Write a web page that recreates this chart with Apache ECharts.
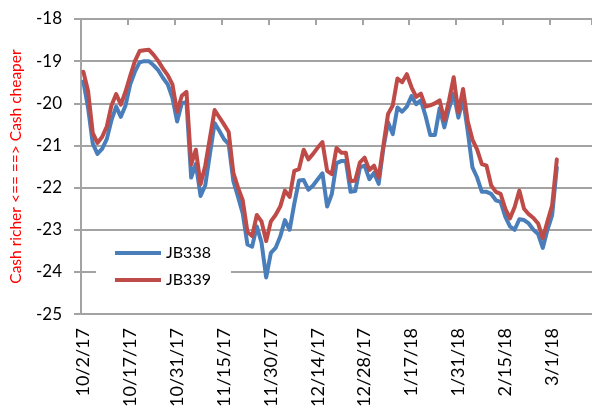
<!DOCTYPE html>
<html>
<head>
<meta charset="utf-8">
<script src="https://cdn.jsdelivr.net/npm/echarts@6/dist/echarts.min.js"></script>
<style>
  html, body { margin: 0; padding: 0; background: #fff; }
  #chart { width: 592px; height: 410px; }
</style>
</head>
<body>
<div id="chart"></div>
<script>
// Trading days (Tokyo calendar) on the category axis
const dates = [
  '10/2/17','10/3/17','10/4/17','10/5/17','10/6/17','10/10/17','10/11/17','10/12/17','10/13/17','10/16/17',
  '10/17/17','10/18/17','10/19/17','10/20/17','10/23/17','10/24/17','10/25/17','10/26/17','10/27/17','10/30/17',
  '10/31/17','11/1/17','11/2/17','11/6/17','11/7/17','11/8/17','11/9/17','11/10/17','11/13/17','11/14/17',
  '11/15/17','11/16/17','11/17/17','11/20/17','11/21/17','11/22/17','11/24/17','11/27/17','11/28/17','11/29/17',
  '11/30/17','12/1/17','12/4/17','12/5/17','12/6/17','12/7/17','12/8/17','12/11/17','12/12/17','12/13/17',
  '12/14/17','12/15/17','12/18/17','12/19/17','12/20/17','12/21/17','12/22/17','12/25/17','12/26/17','12/27/17',
  '12/28/17','12/29/17','1/4/18','1/5/18','1/9/18','1/10/18','1/11/18','1/12/18','1/15/18','1/16/18',
  '1/17/18','1/18/18','1/19/18','1/22/18','1/23/18','1/24/18','1/25/18','1/26/18','1/29/18','1/30/18',
  '1/31/18','2/1/18','2/2/18','2/5/18','2/6/18','2/7/18','2/8/18','2/9/18','2/13/18','2/14/18',
  '2/15/18','2/16/18','2/19/18','2/20/18','2/21/18','2/22/18','2/23/18','2/26/18','2/27/18','2/28/18',
  '3/1/18','3/2/18','3/5/18','3/6/18','3/7/18','3/8/18','3/9/18','3/12/18','3/13/18'
];

// Cash-futures basis, JB338
const jb338 = [
  -19.48,-20.10,-20.95,-21.20,-21.08,-20.85,-20.40,-20.08,-20.32,-20.05,
  -19.55,-19.25,-19.03,-19.00,-19.00,-19.10,-19.22,-19.40,-19.55,-19.87,
  -20.43,-20.00,-19.97,-21.76,-21.44,-22.20,-21.95,-21.20,-20.47,-20.65,
  -20.85,-20.97,-21.85,-22.22,-22.61,-23.35,-23.40,-22.92,-23.30,-24.13,
  -23.55,-23.43,-23.16,-22.77,-23.00,-22.38,-21.83,-21.82,-22.05,-21.95,
  -21.80,-21.66,-22.45,-22.15,-21.42,-21.37,-21.37,-22.10,-22.08,-21.52,
  -21.48,-21.80,-21.65,-21.91,-21.06,-20.45,-20.73,-20.10,-20.20,-20.08,
  -19.83,-20.02,-19.93,-20.30,-20.75,-20.75,-20.12,-20.57,-20.12,-19.77,
  -20.34,-19.89,-20.67,-21.52,-21.76,-22.10,-22.10,-22.15,-22.30,-22.34,
  -22.69,-22.92,-23.00,-22.75,-22.77,-22.85,-23.00,-23.10,-23.43,-23.00,
  -22.65,-21.52
];

// Cash-futures basis, JB339
const jb339 = [
  -19.25,-19.70,-20.70,-20.94,-20.80,-20.55,-20.05,-19.78,-20.03,-19.72,
  -19.35,-19.00,-18.76,-18.74,-18.73,-18.85,-19.00,-19.18,-19.33,-19.55,
  -20.20,-19.82,-19.73,-21.45,-21.10,-21.92,-21.48,-20.82,-20.16,-20.33,
  -20.50,-20.68,-21.65,-22.00,-22.30,-23.05,-23.15,-22.65,-22.80,-23.27,
  -22.80,-22.65,-22.45,-22.07,-22.22,-21.60,-21.56,-21.10,-21.33,-21.20,
  -21.05,-20.92,-21.60,-21.68,-21.06,-21.17,-21.17,-21.85,-21.83,-21.40,
  -21.29,-21.58,-21.48,-21.76,-21.00,-20.25,-20.05,-19.41,-19.50,-19.31,
  -19.62,-19.85,-19.77,-20.08,-20.05,-20.00,-19.93,-20.40,-19.93,-19.38,
  -20.22,-19.66,-20.43,-20.86,-21.10,-21.44,-21.48,-21.95,-22.10,-22.15,
  -22.50,-22.73,-22.46,-22.07,-22.50,-22.63,-22.72,-22.85,-23.20,-22.80,
  -22.42,-21.33
];

const seriesNames = ['JB338', 'JB339'];
const seriesColors = ['#4A7EBB', '#BE4B48'];

// Value axis range
const yMin = -25;
const yMax = -18;
const yStep = 1;

const axisGray = '#a3a3a3';
const font = 'Lato, "Open Sans", sans-serif';

const chart = echarts.init(document.getElementById('chart'), null, { renderer: 'canvas' });

chart.setOption({
  animation: false,
  backgroundColor: '#fff',
  textStyle: { fontFamily: font },
  grid: { left: 81, top: 19, width: 512.3, height: 300, containLabel: false },
  legend: {
    data: seriesNames,
    orient: 'vertical',
    left: 96,
    top: 240,
    icon: 'rect',
    itemWidth: 46,
    itemHeight: 4,
    itemGap: 9,
    padding: [4, 20, 4, 19],
    backgroundColor: '#fff',
    textStyle: { fontSize: 16, color: '#000', lineHeight: 18, fontFamily: font }
  },
  xAxis: [
    {
      // bottom: date labels only
      type: 'category',
      position: 'bottom',
      data: dates,
      boundaryGap: true,
      axisLine: { show: false },
      axisTick: { show: false },
      axisLabel: {
        interval: 9,
        rotate: 90,
        margin: 14,
        fontSize: 18,
        color: '#000',
        fontFamily: font
      },
      splitLine: { show: false }
    },
    {
      // top: axis line with inward tick marks
      type: 'category',
      position: 'top',
      data: dates,
      boundaryGap: true,
      axisLine: { show: true, lineStyle: { color: axisGray, width: 2 } },
      axisTick: { show: true, interval: 9, inside: true, length: 6, lineStyle: { color: axisGray, width: 2 } },
      axisLabel: { show: false },
      splitLine: { show: false }
    }
  ],
  yAxis: {
    type: 'value',
    min: yMin,
    max: yMax,
    interval: yStep,
    name: 'Cash richer <== ==> Cash cheaper',
    nameLocation: 'middle',
    nameRotate: 90,
    nameGap: 57,
    nameTextStyle: { color: '#ff0000', fontSize: 15.5, fontFamily: font },
    axisLine: { show: true, lineStyle: { color: axisGray, width: 2 } },
    axisTick: { show: true, length: 7, lineStyle: { color: axisGray, width: 2 } },
    axisLabel: { margin: 19, fontSize: 17, color: '#000', fontFamily: font },
    splitLine: { show: true, lineStyle: { color: axisGray, width: 2 } }
  },
  series: [
    {
      name: seriesNames[0],
      type: 'line',
      data: jb338,
      xAxisIndex: 0,
      symbol: 'none',
      smooth: false,
      color: seriesColors[0],
      lineStyle: { width: 4, color: seriesColors[0], join: 'round', cap: 'round' },
      z: 3
    },
    {
      name: seriesNames[1],
      type: 'line',
      data: jb339,
      xAxisIndex: 0,
      symbol: 'none',
      smooth: false,
      color: seriesColors[1],
      lineStyle: { width: 4, color: seriesColors[1], join: 'round', cap: 'round' },
      z: 4
    }
  ]
});
</script>
</body>
</html>
